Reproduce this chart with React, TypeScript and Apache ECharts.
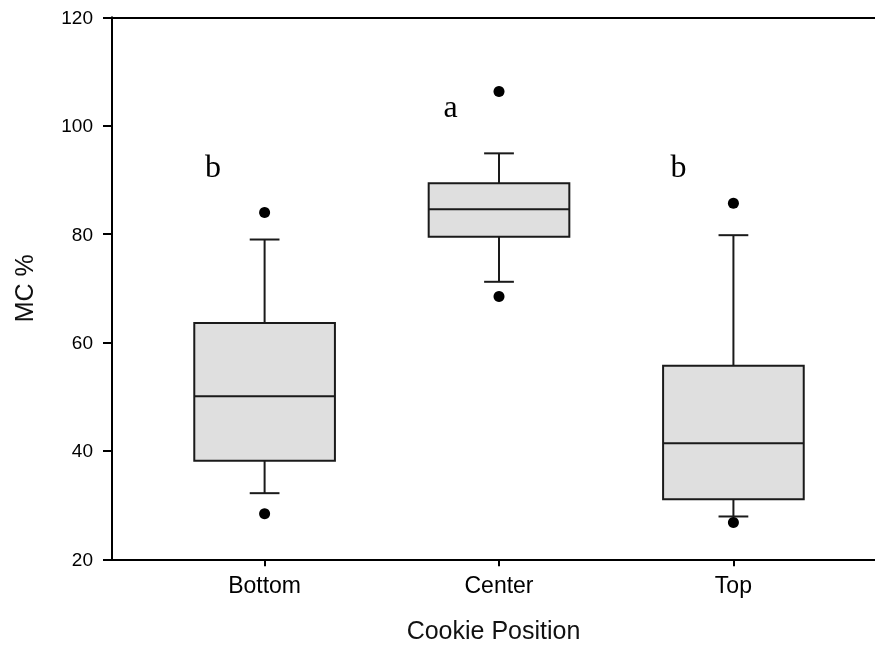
import React, { useEffect, useRef } from 'react';
import * as echarts from 'echarts';

const categories = ['Bottom', 'Center', 'Top'];
const whiskerLow = [32.2, 71.2, 27.9];
const q1 = [38.2, 79.5, 31.1];
const median = [50.1, 84.6, 41.4];
const q3 = [63.6, 89.4, 55.7];
const whiskerHigh = [79.0, 94.9, 79.8];
const outliersLow = [28.4, 68.5, 26.8];
const outliersHigh = [84.0, 106.3, 85.7];
const letters = ['b', 'a', 'b'];
const letterX = [0.78, 1.793, 2.766];
const letterY = [92.5, 103.6, 92.5];

const STROKE = '#1a1a1a';

export default function App() {
  const ref = useRef<HTMLDivElement>(null);
  useEffect(() => {
    if (!ref.current) return;
    const chart = echarts.init(ref.current, null, { renderer: 'svg' });
    const boxData = categories.map((_, i) => [i + 1, whiskerLow[i], q1[i], median[i], q3[i], whiskerHigh[i]]);
    const outlierData: number[][] = [];
    categories.forEach((_, i) => {
      outlierData.push([i + 1, outliersLow[i]]);
      outlierData.push([i + 1, outliersHigh[i]]);
    });
    const letterData = letters.map((l, i) => ({ name: l, value: [letterX[i], letterY[i]] }));
    const ticks = categories.map((_, i) => i + 1);

    chart.setOption({
      animation: false,
      grid: { left: 112, right: 0, top: 17.3, bottom: 88.7, containLabel: false },
      xAxis: [
        {
          type: 'value',
          position: 'bottom',
          min: 0.349,
          max: 3.604,
          splitLine: { show: false },
          axisLine: { show: true, lineStyle: { color: '#000', width: 2 } },
          axisTick: { show: true, inside: false, length: 7, customValues: ticks, lineStyle: { color: '#000', width: 2 } },
          axisLabel: {
            show: true,
            customValues: ticks,
            formatter: (v: number) => categories[Math.round(v) - 1] || '',
            fontFamily: 'Liberation Sans',
            fontSize: 23,
            color: '#000',
            margin: 14,
          },
          name: 'Cookie Position',
          nameLocation: 'middle',
          nameGap: 58,
          nameTextStyle: { fontFamily: 'Liberation Sans', fontSize: 25, color: '#111' },
        },
        {
          type: 'value',
          position: 'top',
          min: 0.349,
          max: 3.604,
          splitLine: { show: false },
          axisLine: { show: true, onZero: false, lineStyle: { color: '#000', width: 2 } },
          axisTick: { show: false },
          axisLabel: { show: false },
        },
      ],
      yAxis: {
        type: 'value',
        min: 20,
        max: 120,
        interval: 20,
        splitLine: { show: false },
        axisLine: { show: true, lineStyle: { color: '#000', width: 2 } },
        axisTick: { show: true, inside: false, length: 9, lineStyle: { color: '#000', width: 2 } },
        axisLabel: { fontFamily: 'Liberation Sans', fontSize: 19, color: '#000', margin: 19 },
        name: 'MC %',
        nameLocation: 'middle',
        nameGap: 76,
        nameTextStyle: { fontFamily: 'Liberation Sans', fontSize: 25, color: '#111' },
      },
      series: [
        {
          type: 'custom',
          xAxisIndex: 0,
          yAxisIndex: 0,
          data: boxData,
          renderItem: (params: any, api: any) => {
            const x = api.value(0);
            const lo = api.coord([x, api.value(1)]);
            const b1 = api.coord([x, api.value(2)]);
            const md = api.coord([x, api.value(3)]);
            const b3 = api.coord([x, api.value(4)]);
            const hi = api.coord([x, api.value(5)]);
            const bw = api.size([0.6, 0])[0];
            const cw = api.size([0.127, 0])[0];
            const cx = lo[0];
            const ls = { stroke: STROKE, lineWidth: 2 };
            return {
              type: 'group',
              children: [
                { type: 'line', shape: { x1: cx, y1: hi[1], x2: cx, y2: b3[1] }, style: ls },
                { type: 'line', shape: { x1: cx - cw / 2, y1: hi[1], x2: cx + cw / 2, y2: hi[1] }, style: ls },
                { type: 'line', shape: { x1: cx, y1: b1[1], x2: cx, y2: lo[1] }, style: ls },
                { type: 'line', shape: { x1: cx - cw / 2, y1: lo[1], x2: cx + cw / 2, y2: lo[1] }, style: ls },
                {
                  type: 'rect',
                  shape: { x: cx - bw / 2, y: b3[1], width: bw, height: b1[1] - b3[1] },
                  style: { fill: '#dfdfdf', stroke: STROKE, lineWidth: 2 },
                },
                { type: 'line', shape: { x1: cx - bw / 2, y1: md[1], x2: cx + bw / 2, y2: md[1] }, style: ls },
              ],
            };
          },
          z: 2,
        },
        {
          type: 'scatter',
          data: outlierData,
          symbol: 'circle',
          symbolSize: 11,
          itemStyle: { color: '#000', opacity: 1 },
          z: 3,
        },
        {
          type: 'scatter',
          data: letterData,
          symbolSize: 1,
          itemStyle: { color: 'transparent', opacity: 1 },
          label: {
            show: true,
            position: 'inside',
            formatter: '{b}',
            fontFamily: 'Liberation Serif',
            fontSize: 32,
            color: '#000',
            opacity: 1,
          },
          z: 4,
        },
      ],
    });
    return () => chart.dispose();
  }, []);
  return <div ref={ref} style={{ position: 'fixed', left: 0, top: 0, width: 875, height: 648 }} />;
}
